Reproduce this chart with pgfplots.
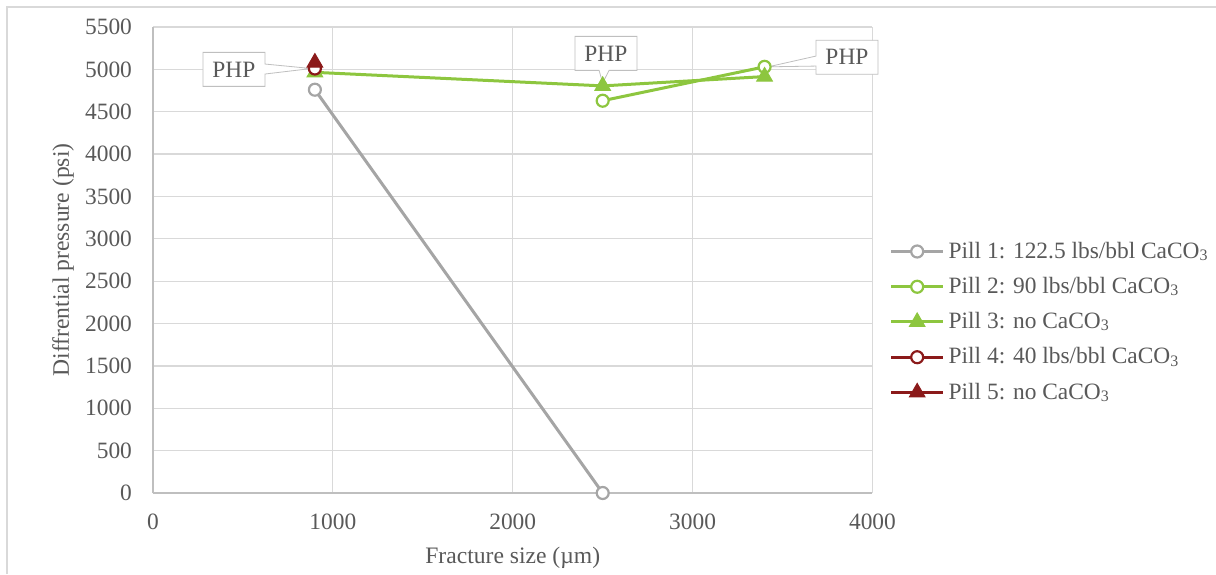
\documentclass[border=0pt]{standalone}
\usepackage{fontspec}
\setmainfont{Liberation Serif}
\usepackage{pgfplots}
\pgfplotsset{compat=1.18}
\usetikzlibrary{shapes.callouts}
\definecolor{txt}{HTML}{595959}
\definecolor{gridc}{HTML}{D9D9D9}
\definecolor{axc}{HTML}{BFBFBF}
\definecolor{pgray}{HTML}{A5A5A5}
\definecolor{pgreen}{RGB}{141,198,63}
\definecolor{pred}{RGB}{139,26,26}
\newcommand{\sub}[1]{\raisebox{-1.2pt}{\fontsize{8}{9}\selectfont #1}}
\begin{document}
\begin{tikzpicture}[font=\fontsize{11.7}{14}\selectfont]
\begin{axis}[name=ax, scale only axis, width=359.75pt, height=233pt,
 xmin=0,xmax=4000,ymin=0,ymax=5500,
 xtick={0,1000,...,4000}, ytick={0,500,...,5500},
 grid=major, major grid style={gridc, line width=0.6pt},
 axis lines*=left, axis line style={axc, line width=0.8pt, -},
 major tick length=0pt,
 tick label style={txt, font=\fontsize{11.7}{14}\selectfont},
 /pgf/number format/assume math mode=true,
 /pgf/number format/set thousands separator={},
 yticklabel style={xshift=-7pt},
 xticklabel style={yshift=-7pt},
 xlabel={Fracture size (µm)}, ylabel={Diffrential pressure (psi)},
 label style={txt, font=\fontsize{11.8}{14}\selectfont},
 xlabel style={at={(axis description cs:0.5,-0.1395)}, anchor=center},
 ylabel style={at={(axis description cs:-0.125,0.5)}, anchor=center},
 legend style={draw=none, fill=none, at={(1.015,0.367)}, anchor=west, text=txt,
   row sep=4pt, font=\fontsize{11.7}{14}\selectfont},
 legend cell align=left,
 legend image code/.code={\draw[mark repeat=2,mark phase=2] plot coordinates {(0pt,0pt)(13pt,0pt)(26pt,0pt)};},
 clip=false,
]
\addplot[pgray, line width=1.5pt, mark=*, mark size=3pt, mark options={fill=white, line width=1.1pt}]
  coordinates {(900,4760) (2500,0)};
\addlegendentry{Pill 1: 122.5 lbs/bbl CaCO\sub{3}}
\addplot[pgreen, line width=1.5pt, mark=*, mark size=3pt, mark options={fill=white, line width=1.1pt}]
  coordinates {(2500,4630) (3400,5030)};
\addlegendentry{Pill 2: 90 lbs/bbl CaCO\sub{3}}
\addplot[pgreen, line width=1.5pt, mark=triangle*, mark size=4.5pt, mark options={fill=pgreen, line width=0.5pt}]
  coordinates {(900,4965) (2500,4805) (3400,4915)};
\addlegendentry{Pill 3: no CaCO\sub{3}}
\addplot[pred, line width=1.5pt, mark=*, mark size=3pt, mark options={fill=white, line width=1.1pt}]
  coordinates {(900,5010)};
\addlegendentry{Pill 4: 40 lbs/bbl CaCO\sub{3}}
\addplot[pred, line width=1.5pt, mark=triangle*, mark size=4.5pt, mark options={fill=pred, line width=0.5pt}]
  coordinates {(900,5080)};
\addlegendentry{Pill 5: no CaCO\sub{3}}
\node[rectangle callout, draw=axc, fill=white, text=txt, minimum width=31pt, minimum height=17pt, inner sep=2pt,
  callout absolute pointer={(axis cs:880,5010)}, callout pointer width=5pt] at (axis cs:450,5000) {PHP};
\node[rectangle callout, draw=axc, fill=white, text=txt, minimum width=31pt, minimum height=17pt, inner sep=2pt,
  callout absolute pointer={(axis cs:2500,4840)}, callout pointer width=5pt] at (axis cs:2518,5189) {PHP};
\node[rectangle callout, draw=axc, fill=white, text=txt, minimum width=31pt, minimum height=17pt, inner sep=2pt,
  callout absolute pointer={(axis cs:3420,5030)}, callout pointer width=5pt] at (axis cs:3858,5142) {PHP};
\end{axis}
\draw[gridc, line width=0.7pt] ([xshift=-73pt,yshift=-40.5pt]ax.south west) -- ([xshift=-73pt,yshift=243pt]ax.south west) -- ([xshift=531.5pt,yshift=243pt]ax.south west);
\pgfresetboundingbox
\path ([xshift=-76.5pt,yshift=-40.5pt]ax.south west) rectangle ([xshift=531.5pt,yshift=246.5pt]ax.south west);
\end{tikzpicture}
\end{document}
